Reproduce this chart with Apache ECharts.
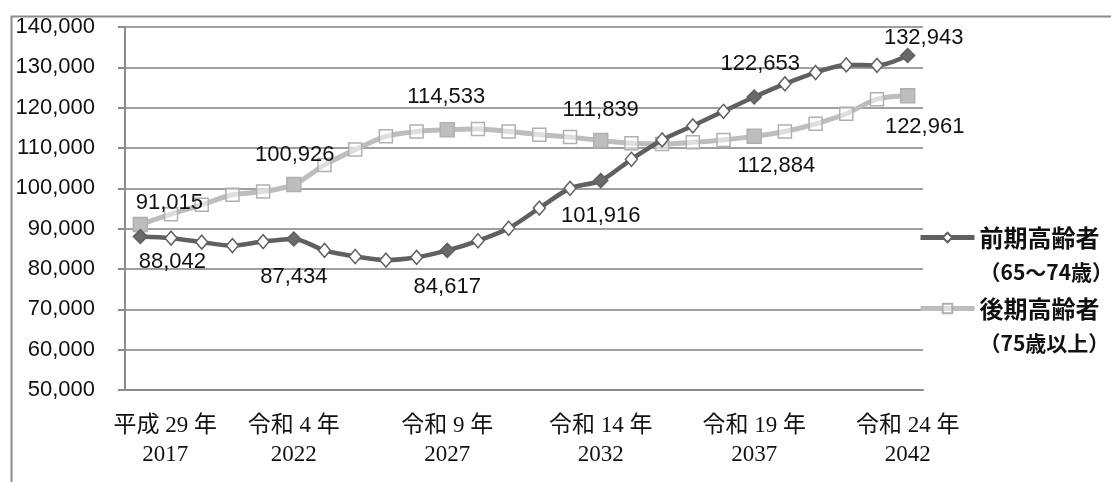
<!DOCTYPE html>
<html>
<head>
<meta charset="utf-8">
<script src="https://cdn.jsdelivr.net/npm/echarts@6/dist/echarts.min.js"></script>
<style>
html, body { margin: 0; padding: 0; background: #fff; }
#chart { width: 1111px; height: 482px; }
</style>
</head>
<body>
<div id="chart"></div>
<script>
var years = ['2017', '2018', '2019', '2020', '2021', '2022', '2023', '2024', '2025', '2026', '2027', '2028', '2029',
	'2030', '2031', '2032', '2033', '2034', '2035', '2036', '2037', '2038', '2039', '2040', '2041', '2042'];
// era names for the labelled years (every 5th)
var eraNames = ['平成 29 年', '令和 4 年', '令和 9 年', '令和 14 年', '令和 19 年', '令和 24 年'];

var earlyName = '前期高齢者\n（65～74歳）';
var lateName = '後期高齢者\n（75歳以上）';
var earlyElderly = [88042, 87640, 86650, 85800, 86800, 87434, 84600, 83100, 82200, 82900, 84617, 87000, 90100,
	95100, 100000, 101916, 107200, 112000, 115500, 119100, 122653, 125900, 128700, 130600, 130500, 132943];
var lateElderly = [91015, 93600, 95900, 98400, 99200, 100926, 105800, 109600, 112900, 114100, 114533, 114700, 114100,
	113300, 112700, 111839, 111200, 111000, 111400, 112000, 112884, 114100, 116000, 118500, 122100, 122961];
var labelled = [0, 5, 10, 15, 20, 25];

// label offsets (centre of text relative to the point)
var earlyOffsets = [[32, 25], [0, 38], [0, 37], [0, 35], [6, -33], [16, -18]];
var lateOffsets = [[29, -22], [1, -30], [-1, -33], [0, -31], [22, 30], [17, 31]];

function fmt(v) {
	return String(v).replace(/\B(?=(\d{3})+(?!\d))/g, ',');
}

function buildData(values, offsets, fill) {
	return values.map(function (v, i) {
		var k = labelled.indexOf(i);
		if (k < 0) return v;
		return {
			value: v,
			symbolSize: 14,
			itemStyle: { color: fill },
			label: { show: true, position: 'inside', offset: offsets[k], formatter: fmt(v) }
		};
	});
}

var chart = echarts.init(document.getElementById('chart'));
var sansFont = '"Liberation Sans", "Noto Sans CJK JP", sans-serif';
var serifFont = '"Liberation Serif", "Noto Sans CJK JP", serif';
var cjkFont = '"Noto Sans CJK JP", sans-serif';

var option = {
	animation: false,
	backgroundColor: '#fff',
	textStyle: { fontFamily: sansFont },
	graphic: [{
		type: 'rect',
		left: 9, top: 14,
		shape: { width: 1200, height: 600 },
		style: { fill: 'none', stroke: '#8c8c8c', lineWidth: 2 },
		silent: true
	}],
	grid: { left: 125, right: 188, top: 27, bottom: 92 },
	legend: {
		orient: 'vertical',
		left: 913,
		top: 180,
		itemWidth: 54,
		itemHeight: 12,
		itemGap: -34,
		selectedMode: false,
		data: [earlyName, lateName],
		lineStyle: { width: 5 },
		// leading blank line keeps the icon level with the first line of text
		formatter: function (name) {
			var parts = name.split('\n');
			return '\n{a|' + parts[0] + '}\n{b|' + parts[1] + '}';
		},
		textStyle: {
			fontFamily: cjkFont,
			fontSize: 23,
			fontWeight: 'bold',
			color: '#111',
			lineHeight: 35,
			rich: {
				a: { fontFamily: cjkFont, fontSize: 24, fontWeight: 'bold', color: '#111', lineHeight: 35 },
				b: { fontFamily: cjkFont, fontSize: 21, fontWeight: 'bold', color: '#111', lineHeight: 35 }
			}
		}
	},
	xAxis: {
		type: 'category',
		data: years,
		boundaryGap: true,
		axisLine: { lineStyle: { color: '#8c8c8c', width: 2 } },
		axisTick: { interval: 0, length: 6, lineStyle: { color: '#8c8c8c', width: 2 } },
		axisLabel: {
			interval: 4,
			margin: 21,
			color: '#111',
			fontFamily: serifFont,
			fontSize: 23,
			lineHeight: 29,
			formatter: function (value, index) {
				var era = eraNames[index / 5];
				if (index === 0) {
					return '{s|' + era + '}\n{s|' + value + '}';
				}
				return era + '\n' + value;
			},
			rich: {
				s: { fontFamily: serifFont, fontSize: 23, lineHeight: 29, color: '#111', padding: [0, 0, 0, 50] }
			}
		}
	},
	yAxis: {
		type: 'value',
		min: 50000,
		max: 140000,
		interval: 10000,
		axisLine: { show: true, lineStyle: { color: '#8c8c8c', width: 2 } },
		axisTick: { show: true, length: 7, lineStyle: { color: '#8c8c8c', width: 2 } },
		splitLine: { lineStyle: { color: '#a0a0a0', width: 2 } },
		axisLabel: {
			margin: 30,
			color: '#111',
			fontSize: 22,
			formatter: fmt
		}
	},
	series: [{
		name: earlyName,
		type: 'line',
		smooth: 0.3,
		symbol: 'diamond',
		symbolSize: [12, 14],
		lineStyle: { color: '#606060', width: 4.5 },
		itemStyle: { color: '#fff', borderColor: '#606060', borderWidth: 1.5 },
		label: { color: '#111', fontSize: 22, fontFamily: sansFont },
		data: buildData(earlyElderly, earlyOffsets, '#6a6a6a'),
		z: 3
	}, {
		name: lateName,
		type: 'line',
		smooth: 0.3,
		symbol: 'rect',
		symbolSize: 13,
		lineStyle: { color: '#bdbdbd', width: 5 },
		itemStyle: { color: 'rgba(255,255,255,0.5)', borderColor: '#b0b0b0', borderWidth: 1.5 },
		label: { color: '#111', fontSize: 22, fontFamily: sansFont },
		data: buildData(lateElderly, lateOffsets, '#bdbdbd'),
		z: 2
	}]
};

chart.setOption(option);
</script>
</body>
</html>
